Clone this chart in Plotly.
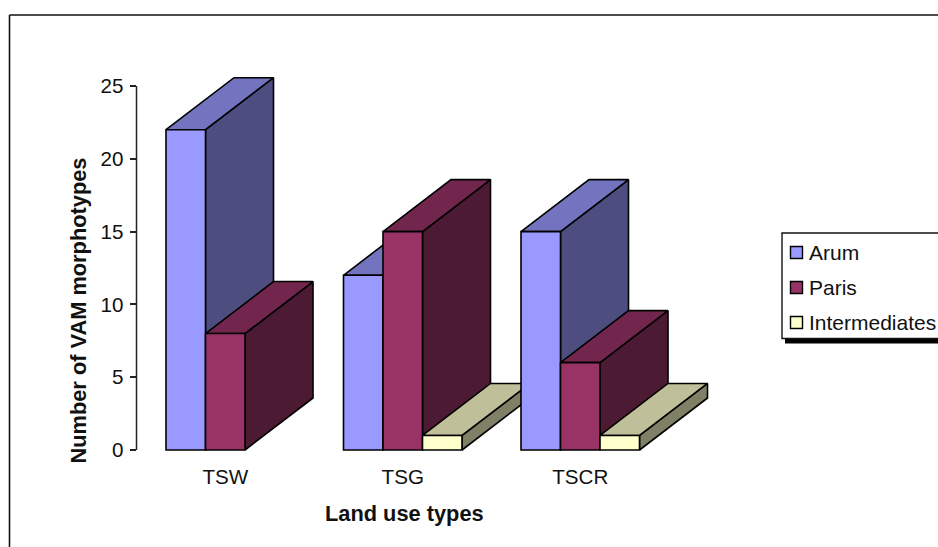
import plotly.graph_objects as go

# ---- data ----
categories = ["TSW", "TSG", "TSCR"]
series_names = ["Arum", "Paris", "Intermediates"]
arum = [22, 12, 15]
paris = [8, 15, 6]
intermediates = [0, 1, 1]
y_ticks = [0, 5, 10, 15, 20, 25]

# ---- styles ----
front_colors = ["#9999FF", "#993366", "#FFFFCC"]
top_colors = ["#7373BF", "#73264D", "#BFBF99"]
side_colors = ["#4D4D80", "#4D1A33", "#808066"]
INK = "#000000"
TEXT = "#111111"
EDGE = 1.6
W, H = 938, 547


def px(x):
    return x / W


def py(y):
    return 1 - y / H


# Axis calibration (pixels per data unit)
PX_PER_CAT = 177.5
PX_PER_UNIT = 14.56
AXIS_LEFT = 136.5
ZERO_Y = 450
BAR_W = 39.5 / PX_PER_CAT
DEPTH_X = 68 / PX_PER_CAT
DEPTH_Y = 52 / PX_PER_UNIT

plot_right, plot_top, plot_bottom = 780, 66, 455
x_range = [-0.5, -0.5 + (plot_right - AXIS_LEFT) / PX_PER_CAT]
y_range = [(ZERO_Y - plot_bottom) / PX_PER_UNIT, (ZERO_Y - plot_top) / PX_PER_UNIT]

fig = go.Figure()
values = [arum, paris, intermediates]
x_pos = list(range(len(categories)))

# depth faces (tops and sides), back to front
for g, xc in enumerate(x_pos):
    for s, vals in enumerate(values):
        v = vals[g]
        if not v:
            continue
        xl = xc + (s - 1.5) * BAR_W
        xr = xl + BAR_W
        fig.add_trace(go.Scatter(
            x=[xr, xr, xr + DEPTH_X, xr + DEPTH_X, xr],
            y=[0, v, v + DEPTH_Y, DEPTH_Y, 0],
            mode="lines", fill="toself", fillcolor=side_colors[s],
            line=dict(color=INK, width=EDGE), showlegend=False, hoverinfo="skip", zorder=0))
        fig.add_trace(go.Scatter(
            x=[xl, xr, xr + DEPTH_X, xl + DEPTH_X, xl],
            y=[v, v, v + DEPTH_Y, v + DEPTH_Y, v],
            mode="lines", fill="toself", fillcolor=top_colors[s],
            line=dict(color=INK, width=EDGE), showlegend=False, hoverinfo="skip", zorder=0))

# front faces
for s, vals in enumerate(values):
    fig.add_trace(go.Bar(
        x=x_pos, y=[v if v else None for v in vals], name=series_names[s],
        width=BAR_W, offset=(s - 1.5) * BAR_W,
        marker=dict(color=front_colors[s], line=dict(color=INK, width=EDGE)),
        showlegend=False, zorder=1))

shapes = [
    # chart frame (left and top edges)
    dict(type="line", xref="paper", yref="paper", x0=px(9.5), x1=px(9.5), y0=0, y1=py(15),
         line=dict(color="#111111", width=1.6)),
    dict(type="line", xref="paper", yref="paper", x0=px(9.5), x1=1, y0=py(15), y1=py(15),
         line=dict(color="#111111", width=1.6)),
    # value axis line
    dict(type="line", xref="paper", yref="y", x0=px(AXIS_LEFT), x1=px(AXIS_LEFT), y0=0, y1=25,
         line=dict(color="#222222", width=1.5)),
    # legend shadow and box
    dict(type="rect", xref="paper", yref="paper", x0=px(785), x1=1, y0=py(343.5), y1=py(336),
         fillcolor="#000000", line=dict(width=0)),
    dict(type="rect", xref="paper", yref="paper", x0=px(782), x1=px(945), y0=py(338.5), y1=py(233),
         fillcolor="#FFFFFF", line=dict(color="#111111", width=1.4)),
]
annotations = [
    dict(text="<b>Number of VAM morphotypes</b>", xref="paper", yref="paper", x=px(77.5), y=py(311),
         textangle=-90, showarrow=False, font=dict(size=21.8), xanchor="center", yanchor="middle"),
    dict(text="<b>Land use types</b>", xref="paper", yref="paper", x=px(404.5), y=py(513),
         showarrow=False, font=dict(size=21.8), xanchor="center", yanchor="middle"),
]
for s, name in enumerate(series_names):
    cy = 252.5 + 35 * s
    shapes.append(dict(type="rect", xref="paper", yref="paper", x0=px(790.5), x1=px(802.5),
                       y0=py(cy + 6), y1=py(cy - 6), fillcolor=front_colors[s],
                       line=dict(color=INK, width=1.4)))
    annotations.append(dict(text=name, xref="paper", yref="paper", x=px(809), y=py(cy),
                            showarrow=False, xanchor="left", yanchor="middle", xshift=-2,
                            font=dict(size=21)))

fig.update_layout(
    width=W, height=H,
    margin=dict(l=0, r=0, t=0, b=0, autoexpand=False),
    paper_bgcolor="#FFFFFF", plot_bgcolor="rgba(0,0,0,0)",
    font=dict(family="Liberation Sans", color=TEXT, size=20),
    showlegend=False,
    shapes=shapes, annotations=annotations,
    xaxis=dict(domain=[px(AXIS_LEFT), px(plot_right)], range=x_range, tickmode="array",
               tickvals=x_pos, ticktext=categories, ticks="", showgrid=False, zeroline=False,
               showline=False, tickfont=dict(size=20.6), ticklabelstandoff=7, fixedrange=True),
    yaxis=dict(domain=[py(plot_bottom), py(plot_top)], range=y_range, tickmode="array",
               tickvals=y_ticks, ticks="outside", ticklen=6, tickwidth=1.5, tickcolor="#222222",
               showgrid=False, zeroline=False, showline=False, tickfont=dict(size=20.6),
               ticklabelstandoff=2, fixedrange=True),
)

fig.write_html(
    "out.html",
    config={"displayModeBar": False},
    post_script="document.body.style.margin='0';document.documentElement.style.overflow='hidden';",
)
